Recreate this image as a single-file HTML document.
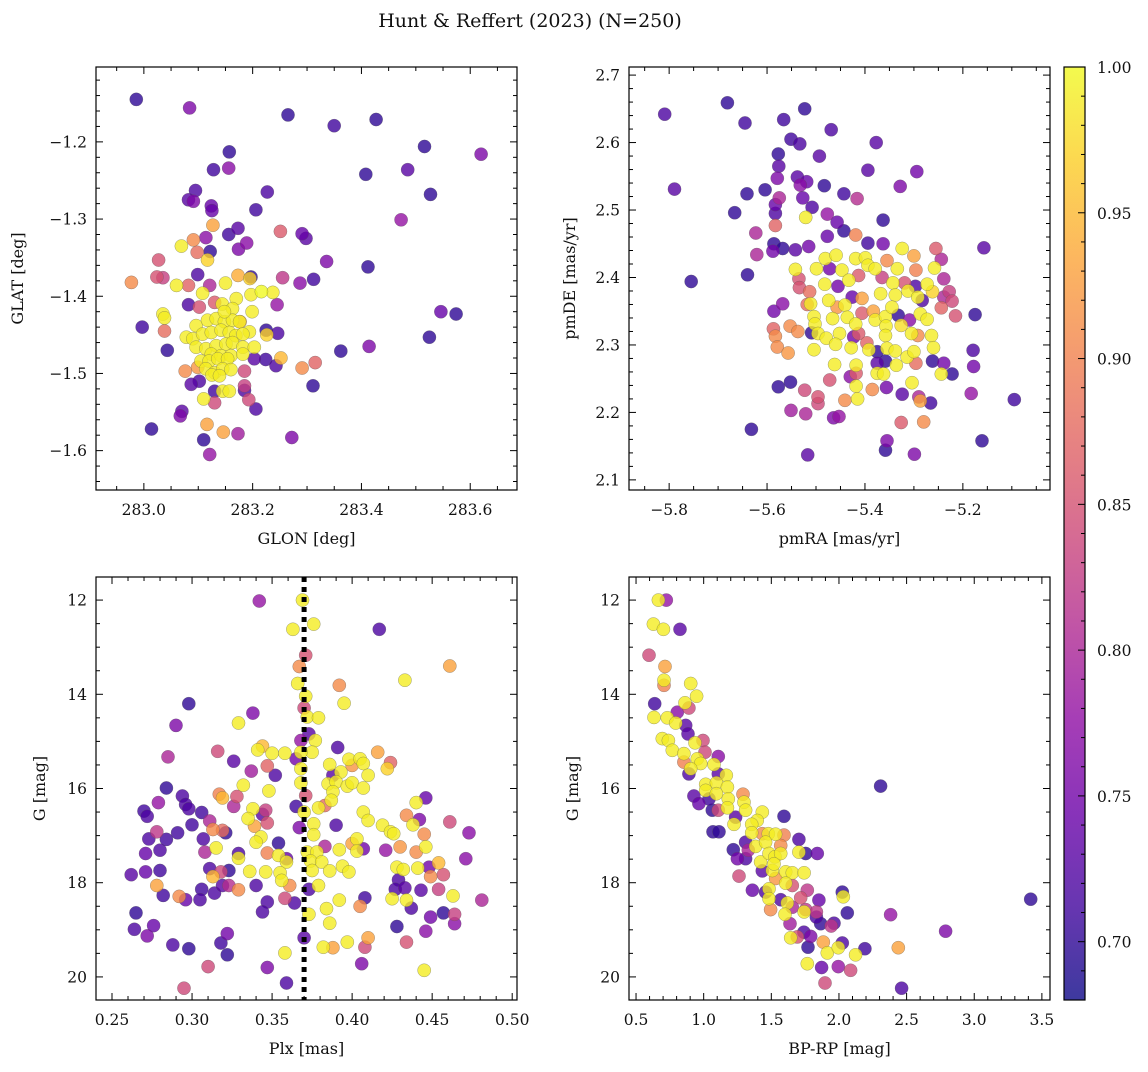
<!DOCTYPE html>
<html><head><meta charset="utf-8"><style>
html,body{margin:0;padding:0;background:#fff}
svg text{font-family:"DejaVu Serif","Liberation Serif",serif;fill:#111}
</style></head><body>
<svg id="fig" width="1148" height="1067" viewBox="0 0 1148 1067" xmlns="http://www.w3.org/2000/svg">
<text x="530" y="27" font-size="19" text-anchor="middle">Hunt &amp; Reffert (2023) (N=250)</text>
</svg>
<script>
// ---- Panel 1: GLON vs GLAT ----
const glonX=[282.986,283.084,283.265,283.350,283.427,283.516,283.620,283.157,283.128,283.156,283.408,283.485,283.527,283.095,283.082,283.091,283.227,283.124,283.125,283.206,283.473,283.127,283.173,283.156,283.251,283.291,283.298,283.114,283.189,283.174,283.091,283.069,283.098,283.122,283.117,283.027,283.336,283.412,282.977,283.024,283.035,283.099,283.060,283.082,283.255,283.287,283.312,283.197,283.173,283.195,283.150,283.121,283.108,283.197,283.216,283.237,283.170,283.130,283.144,283.082,283.102,283.245,283.199,283.163,283.035,283.038,282.997,283.038,283.546,283.574,283.525,283.414,283.362,283.043,283.225,283.246,283.226,283.194,
283.096,283.117,283.133,283.148,283.163,283.176,283.078,283.090,283.108,283.124,283.142,283.157,283.169,283.182,283.096,283.114,283.133,283.151,283.163,283.182,283.203,283.124,283.142,283.160,283.182,283.105,283.120,283.136,283.154,283.114,283.130,283.145,283.160,283.125,283.139,
283.177,283.148,283.252,283.291,283.315,283.243,283.224,283.203,283.076,283.099,283.185,283.087,283.102,283.130,283.145,283.157,283.185,283.185,283.110,283.193,283.130,283.206,283.070,283.067,283.311,283.014,283.116,283.110,283.146,283.173,283.272,283.121];
const glatY=[-1.145,-1.156,-1.165,-1.179,-1.171,-1.206,-1.216,-1.213,-1.236,-1.234,-1.242,-1.236,-1.268,-1.263,-1.275,-1.277,-1.265,-1.283,-1.289,-1.288,-1.301,-1.308,-1.312,-1.320,-1.316,-1.319,-1.325,-1.324,-1.331,-1.339,-1.327,-1.335,-1.343,-1.342,-1.353,-1.353,-1.355,-1.362,-1.382,-1.375,-1.376,-1.372,-1.386,-1.386,-1.376,-1.383,-1.378,-1.375,-1.373,-1.377,-1.383,-1.386,-1.396,-1.398,-1.394,-1.395,-1.403,-1.408,-1.410,-1.411,-1.414,-1.411,-1.420,-1.416,-1.423,-1.428,-1.440,-1.445,-1.420,-1.423,-1.453,-1.465,-1.471,-1.470,-1.444,-1.448,-1.450,-1.446,
-1.438,-1.431,-1.429,-1.433,-1.431,-1.433,-1.453,-1.455,-1.449,-1.447,-1.444,-1.447,-1.451,-1.449,-1.466,-1.468,-1.464,-1.462,-1.460,-1.466,-1.466,-1.475,-1.477,-1.477,-1.475,-1.484,-1.484,-1.481,-1.481,-1.494,-1.499,-1.494,-1.495,-1.502,-1.503,
-1.433,-1.420,-1.480,-1.493,-1.486,-1.490,-1.482,-1.481,-1.497,-1.492,-1.497,-1.514,-1.510,-1.523,-1.523,-1.523,-1.516,-1.522,-1.533,-1.534,-1.538,-1.546,-1.549,-1.555,-1.516,-1.572,-1.566,-1.586,-1.576,-1.578,-1.583,-1.605];
const glonProb=[.70,.76,.70,.71,.70,.70,.76,.70,.71,.77,.70,.73,.70,.72,.73,.76,.72,.74,.74,.71,.78,.93,.73,.71,.86,.74,.73,.77,.77,.76,.91,.99,.88,.70,.97,.85,.76,.70,.91,.85,.83,.72,.99,.87,.82,.77,.71,.70,.94,.97,.99,.80,.99,.99,1.0,.99,.99,.86,.99,.72,.85,.78,.99,.99,.99,.99,.71,.88,.74,.70,.70,.76,.70,.70,.70,.72,.97,.99,
.99,.99,.99,.99,.99,.99,.99,.99,.99,.99,.99,.99,.99,.99,.99,.99,.99,.99,.99,.99,.99,.99,.99,.99,.99,.99,.99,.99,.99,.99,.99,.99,.99,.99,.99,
.93,.99,.95,.91,.87,.72,.71,.73,.91,.92,.84,.73,.72,.71,.99,.99,.83,.72,.99,.84,.84,.72,.73,.76,.70,.70,.93,.70,.93,.79,.76,.78];

// ---- Panel 2: pmRA vs pmDE ----
const pmraX=[-5.809,-5.681,-5.523,-5.645,-5.566,-5.469,-5.551,-5.533,-5.377,-5.577,-5.493,-5.576,-5.394,-5.294,-5.579,-5.538,-5.519,-5.532,-5.483,-5.328,-5.789,-5.641,-5.604,-5.443,-5.575,-5.527,-5.416,-5.583,-5.583,-5.666,-5.508,-5.521,-5.477,-5.363,-5.457,-5.583,-5.623,-5.477,-5.443,-5.419,-5.394,-5.363,-5.586,-5.568,-5.588,-5.542,-5.515,-5.621,-5.157,-5.255,-5.324,-5.300,-5.244,-5.640,-5.755,-5.542,-5.499,-5.481,-5.459,-5.472,-5.447,-5.419,-5.399,-5.394,-5.379,-5.355,-5.334,-5.296,-5.258,-5.239,-5.535,-5.413,-5.433,-5.482,-5.455,-5.365,-5.343,-5.319,-5.297,-5.273,-5.534,-5.513,-5.511,-5.518,-5.568,-5.586,-5.474,-5.441,-5.426,-5.406,-5.368,-5.338,-5.312,-5.292,-5.283,-5.262,-5.239,-5.228,-5.222,-5.244,-5.215,-5.175,-5.457,-5.436,-5.466,-5.504,-5.502,-5.406,-5.383,-5.379,-5.358,-5.345,-5.332,-5.309,-5.287,-5.273,-5.419,-5.357,-5.326,-5.587,-5.553,-5.537,-5.583,-5.509,-5.496,-5.479,-5.452,-5.423,-5.413,-5.358,-5.305,-5.292,-5.264,-5.579,-5.557,-5.504,-5.460,-5.428,-5.396,-5.392,-5.375,-5.355,-5.338,-5.314,-5.300,-5.260,-5.179,-5.462,-5.418,-5.375,-5.358,-5.336,-5.296,-5.262,-5.239,-5.178,-5.244,-5.222,-5.418,-5.430,-5.375,-5.362,-5.472,-5.577,-5.552,-5.523,-5.496,-5.496,-5.418,-5.385,-5.356,-5.304,-5.324,-5.290,-5.287,-5.266,-5.183,-5.095,-5.441,-5.415,-5.551,-5.521,-5.464,-5.453,-5.326,-5.280,-5.632,-5.355,-5.358,-5.299,-5.517,-5.161];
const pmdeY=[2.642,2.659,2.650,2.629,2.634,2.619,2.605,2.598,2.600,2.583,2.580,2.565,2.559,2.557,2.547,2.549,2.542,2.537,2.536,2.535,2.531,2.524,2.530,2.524,2.518,2.518,2.517,2.508,2.495,2.496,2.504,2.489,2.494,2.485,2.482,2.477,2.466,2.461,2.469,2.463,2.451,2.450,2.450,2.443,2.439,2.441,2.446,2.434,2.444,2.443,2.443,2.432,2.427,2.404,2.394,2.412,2.413,2.428,2.433,2.413,2.411,2.428,2.429,2.418,2.413,2.425,2.413,2.411,2.414,2.398,2.398,2.403,2.396,2.390,2.387,2.400,2.392,2.392,2.387,2.390,2.385,2.379,2.361,2.360,2.361,2.350,2.366,2.359,2.371,2.369,2.376,2.374,2.380,2.371,2.366,2.379,2.371,2.379,2.365,2.355,2.343,2.345,2.356,2.341,2.339,2.342,2.331,2.347,2.350,2.337,2.342,2.356,2.344,2.337,2.346,2.338,2.331,2.328,2.329,2.324,2.328,2.320,2.313,2.318,2.317,2.310,2.317,2.312,2.317,2.314,2.317,2.314,2.314,2.297,2.288,2.293,2.301,2.296,2.303,2.293,2.290,2.295,2.291,2.282,2.290,2.296,2.292,2.271,2.270,2.273,2.276,2.270,2.273,2.276,2.273,2.268,2.257,2.257,2.258,2.253,2.258,2.257,2.248,2.238,2.245,2.233,2.223,2.213,2.239,2.234,2.237,2.244,2.227,2.223,2.217,2.214,2.228,2.219,2.218,2.220,2.203,2.198,2.192,2.194,2.185,2.186,2.175,2.158,2.144,2.138,2.137,2.158];
const pmProb=[.72,.70,.70,.71,.71,.72,.71,.72,.73,.70,.73,.73,.73,.75,.76,.73,.74,.77,.70,.76,.73,.70,.70,.71,.80,.74,.81,.74,.72,.70,.72,.99,.78,.70,.74,.87,.80,.74,.70,.90,.71,.75,.70,.70,.75,.73,.75,.80,.73,.86,.99,.93,.80,.70,.70,.99,.99,.99,.99,.75,.99,.99,.99,.99,.99,.91,.99,.90,.99,.80,.85,.86,.99,.99,.75,.83,.99,.85,.72,.99,.85,.88,.99,.88,.77,.75,.99,.99,.74,.93,.99,.99,.99,.99,.72,.97,.80,.83,.84,.87,.85,.70,.92,.99,.99,.99,.99,.86,.93,.99,.99,.99,.70,.77,.99,.99,.99,.99,.98,.87,.91,.91,.91,.70,.99,.99,.99,.75,.86,.99,.99,.91,.99,.91,.92,.99,.99,.99,.87,.99,.70,.99,.99,.99,.99,.99,.72,.99,.99,.73,.70,.99,.88,.70,.75,.75,.99,.70,.86,.77,.99,.99,.85,.70,.70,.84,.85,.84,.99,.91,.75,.99,.73,.80,.93,.71,.78,.71,.91,.99,.79,.80,.76,.78,.86,.91,.70,.76,.70,.76,.73,.70];

// ---- Panel 3: Plx vs G ----
const plxX=[0.342,0.369,0.363,0.376,0.417,0.371,0.367,0.461,0.366,0.433,0.392,0.395,0.298,0.371,0.370,0.338,0.290,0.329,0.372,0.379,0.373,0.368,0.377,0.375,0.368,0.391,0.285,0.316,0.341,0.344,0.350,0.358,0.365,0.326,0.337,0.347,0.352,0.368,0.386,0.398,0.400,0.405,0.407,0.416,0.424,0.422,0.410,0.393,0.388,0.332,0.348,0.368,0.385,0.390,0.397,0.400,0.407,0.284,0.279,0.294,0.317,0.319,0.328,0.326,0.371,0.388,0.387,0.383,0.379,0.440,0.446,0.270,0.272,0.296,0.298,0.306,0.338,0.344,0.346,0.347,0.365,0.370,0.407,0.410,0.419,0.434,0.442,0.438,0.461,0.335,0.339,0.311,0.300,0.313,0.319,0.321,0.376,0.390,0.424,0.426,0.278,0.291,0.273,0.284,0.307,0.343,0.340,0.376,0.367,0.445,0.473,0.271,0.280,0.308,0.315,0.329,0.329,0.347,0.354,0.354,0.359,0.359,0.372,0.378,0.383,0.392,0.400,0.403,0.403,0.407,0.421,0.430,0.440,0.446,0.471,0.262,0.271,0.280,0.311,0.313,0.318,0.323,0.336,0.346,0.355,0.356,0.374,0.375,0.381,0.386,0.394,0.398,0.428,0.432,0.441,0.448,0.454,0.449,0.457,0.278,0.282,0.306,0.314,0.319,0.323,0.329,0.340,0.361,0.373,0.379,0.429,0.427,0.433,0.443,0.454,0.463,0.292,0.296,0.305,0.347,0.358,0.364,0.392,0.408,0.425,0.434,0.437,0.481,0.265,0.344,0.373,0.384,0.405,0.449,0.457,0.464,0.464,0.264,0.276,0.272,0.322,0.318,0.288,0.298,0.322,0.358,0.386,0.370,0.382,0.388,0.397,0.410,0.408,0.428,0.434,0.446,0.406,0.445,0.310,0.347,0.359,0.295];
const plxG=[12.02,12.00,12.62,12.51,12.62,13.17,13.41,13.40,13.77,13.70,13.81,14.19,14.20,14.04,14.29,14.40,14.66,14.61,14.48,14.50,14.84,14.98,14.98,15.23,15.23,15.13,15.33,15.21,15.18,15.10,15.25,15.25,15.37,15.42,15.63,15.52,15.72,15.58,15.49,15.38,15.51,15.37,15.47,15.23,15.45,15.58,15.72,15.65,15.72,15.93,16.05,15.88,15.90,15.86,15.95,15.88,15.99,15.99,16.30,16.16,16.12,16.20,16.17,16.38,16.15,16.07,16.25,16.36,16.41,16.30,16.20,16.48,16.59,16.34,16.43,16.51,16.43,16.55,16.46,16.73,16.38,16.50,16.50,16.68,16.78,16.57,16.66,16.77,16.71,16.64,16.80,16.69,16.77,16.87,16.89,16.94,16.75,16.78,16.92,16.96,16.92,16.94,17.07,17.08,17.07,17.03,17.14,16.98,16.83,16.97,16.94,17.38,17.31,17.35,17.26,17.38,17.48,17.37,17.16,17.42,17.49,17.56,17.35,17.35,17.23,17.30,17.17,17.07,17.33,17.28,17.31,17.24,17.35,17.24,17.49,17.83,17.77,17.74,17.70,17.87,17.77,17.74,17.76,17.77,17.79,17.95,17.54,17.74,17.56,17.75,17.65,17.77,17.67,17.72,17.69,17.67,17.58,17.87,17.83,18.06,18.27,18.14,18.22,18.06,18.06,18.15,18.06,18.06,18.14,18.06,17.94,18.14,18.11,18.16,18.14,18.28,18.29,18.36,18.36,18.41,18.33,18.43,18.37,18.32,18.34,18.37,18.54,18.37,18.64,18.62,18.67,18.55,18.50,18.73,18.64,18.67,18.87,18.99,18.91,19.13,19.08,19.28,19.32,19.40,19.53,19.49,18.86,19.17,19.37,19.38,19.26,19.17,19.37,18.93,19.26,19.03,19.72,19.86,19.78,19.80,20.13,20.24];
const plxProb=[.78,.99,.99,.99,.72,.85,.91,.93,.99,.99,.91,.99,.70,.99,.84,.76,.76,.99,.99,.99,.73,.78,.99,.99,.99,.72,.80,.84,.99,.95,.99,.99,.75,.73,.79,.87,.72,.99,.99,.99,.92,.99,.99,.93,.87,.97,.99,.99,.73,.99,.99,.99,.99,.99,.99,.99,.99,.70,.78,.72,.90,.95,.85,.80,.85,.99,.99,.88,.99,.99,.74,.71,.72,.72,.72,.71,.99,.73,.83,.85,.71,.99,.99,.99,.99,.91,.76,.99,.84,.99,.93,.80,.71,.91,.88,.70,.99,.72,.99,.99,.82,.71,.72,.71,.72,.99,.99,.99,.76,.91,.77,.74,.72,.80,.99,.72,.99,.90,.70,.99,.74,.99,.99,.99,.80,.99,.93,.99,.99,.75,.78,.92,.91,.99,.77,.73,.74,.71,.72,.95,.84,.70,.99,.99,.99,.99,.99,.99,.99,.99,.99,.99,.99,.99,.99,.75,.95,.91,.85,.93,.71,.71,.72,.73,.81,.91,.72,.91,.72,.99,.72,.72,.73,.73,.83,.99,.91,.74,.72,.72,.84,.72,.99,.71,.99,.99,.72,.80,.70,.72,.99,.99,.91,.75,.70,.83,.77,.72,.74,.76,.75,.71,.72,.70,.70,.99,.99,.73,.99,.93,.99,.93,.84,.70,.85,.77,.76,.99,.84,.76,.72,.84,.70];

// ---- Panel 4: BP-RP vs G ----
const bprpX=[0.665,0.724,0.628,0.702,0.825,0.596,0.714,0.707,0.707,0.904,0.948,0.638,0.862,0.891,0.805,0.633,0.731,0.793,0.867,0.884,0.694,0.739,0.995,0.768,0.854,0.936,1.010,1.108,0.953,0.854,0.978,0.904,0.891,1.076,1.108,1.167,1.015,1.094,1.175,0.928,0.965,1.039,1.015,1.094,1.182,1.291,1.298,1.064,1.108,1.175,1.310,1.236,1.594,1.433,1.396,1.224,1.355,1.069,1.113,1.355,1.433,1.478,1.532,1.594,1.704,2.308,1.310,1.384,1.458,1.569,1.704,1.754,1.840,1.219,1.249,1.330,1.310,1.421,1.483,1.527,1.569,1.433,1.507,1.606,1.655,1.742,1.520,1.261,1.532,1.606,1.655,1.483,1.458,1.360,1.766,2.025,2.032,1.483,1.569,1.618,1.717,1.852,3.417,1.495,1.655,1.742,1.601,1.754,1.833,1.833,2.062,2.382,1.638,1.741,1.791,1.865,1.943,1.963,2.788,1.643,1.692,1.771,1.884,2.025,1.914,1.995,2.123,2.192,2.439,1.766,1.872,1.995,2.086,1.897,2.463];
const bprpG=[12.00,12.00,12.51,12.62,12.62,13.17,13.41,13.81,13.70,13.77,14.04,14.20,14.18,14.29,14.38,14.49,14.50,14.61,14.66,14.84,14.94,14.98,14.98,15.19,15.26,15.03,15.23,15.32,15.37,15.44,15.47,15.58,15.69,15.49,15.69,15.72,15.91,15.88,15.97,16.16,16.32,16.22,16.04,16.11,16.22,16.12,16.29,16.46,16.46,16.41,16.46,16.61,16.59,16.50,16.68,16.76,16.76,16.92,16.92,16.94,16.96,16.96,16.97,16.99,17.08,15.95,17.14,17.23,17.14,17.21,17.35,17.38,17.38,17.30,17.49,17.31,17.49,17.56,17.38,17.45,17.38,17.75,17.74,17.77,17.79,17.79,17.60,17.86,17.91,18.01,18.06,18.13,18.20,18.16,18.16,18.20,18.30,18.34,18.36,18.43,18.32,18.37,18.35,18.57,18.52,18.62,18.67,18.57,18.62,18.73,18.64,18.68,18.87,19.05,19.14,18.87,18.92,18.86,19.03,19.17,19.15,19.37,19.26,19.28,19.49,19.38,19.53,19.40,19.38,19.72,19.80,19.78,19.86,20.13,20.24];
const bprpProb=[.99,.78,.99,.99,.73,.84,.93,.90,.99,.99,.99,.71,.99,.84,.77,.99,.99,.99,.73,.73,.99,.99,.84,.99,.99,.99,.84,.77,.99,.90,.99,.99,.72,.99,.73,.99,.99,.99,.99,.73,.74,.71,.99,.99,.99,.91,.99,.70,.84,.99,.99,.73,.70,.99,.99,.99,.99,.70,.70,.99,.91,.99,.99,.90,.72,.70,.72,.99,.99,.91,.99,.70,.74,.70,.75,.80,.72,.99,.99,.99,.99,.73,.99,.99,.99,.99,.99,.84,.92,.99,.85,.99,.72,.74,.82,.70,.99,.99,.72,.99,.85,.74,.70,.91,.80,.99,.99,.82,.82,.72,.70,.78,.79,.72,.76,.70,.82,.72,.76,.99,.85,.70,.93,.72,.99,.99,.99,.71,.93,.99,.74,.78,.84,.84,.72];

const cbTicks=[0.70,0.75,0.80,0.85,0.90,0.95,1.00];
const NS="http://www.w3.org/2000/svg";
const svg=document.getElementById('fig');
const PMIN=0.680,PMAX=1.0;
const stops=[[13,8,135],[65,4,157],[106,0,168],[143,13,164],[177,42,144],[204,71,120],[225,100,98],[242,132,75],[252,166,54],[252,206,37],[240,249,33]];
function plasma(t){t=Math.max(0,Math.min(1,t));const f=t*10,i=Math.min(9,Math.floor(f)),u=f-i;const a=stops[i],b=stops[i+1];return 'rgb('+[0,1,2].map(k=>Math.round(a[k]+(b[k]-a[k])*u)).join(',')+')';}
function mk(tag,attrs,parent){const e=document.createElementNS(NS,tag);for(const k in attrs)e.setAttribute(k,attrs[k]);(parent||svg).appendChild(e);return e;}
function fmt(v,d){let s=v.toFixed(d);if(v<0)s='\u2212'+s.slice(1);return s;}

function panel(o){
  const g=mk('g',{});
  
  
  const sx=v=>o.L+(v-o.x0)/(o.x1-o.x0)*(o.R-o.L);
  const sy=v=>o.B-(v-o.y0)/(o.y1-o.y0)*(o.B-o.T);
  const cid='clip'+o.name;
  const cp=mk('clipPath',{id:cid},g);mk('rect',{x:o.L,y:o.T,width:o.R-o.L,height:o.B-o.T},cp);
  const pg=mk('g',{'clip-path':'url(#'+cid+')'},g);
  
  
  const idx=o.xs.map((_,i)=>i).sort((a,b)=>o.ps[a]-o.ps[b]);
  idx.forEach(i=>{
    const c=mk('circle',{cx:sx(o.xs[i]).toFixed(1),cy:sy(o.ys[i]).toFixed(1),r:6.6,fill:plasma((o.ps[i]-PMIN)/(PMAX-PMIN)),'fill-opacity':0.8,stroke:'#555','stroke-opacity':0.55,'stroke-width':0.5},pg);
    
    
  });
  if(o.vline!==undefined){
    const l=mk('line',{x1:sx(o.vline),x2:sx(o.vline),y1:o.T,y2:o.B,stroke:'#000','stroke-width':5,'stroke-dasharray':'5,5'},pg);
    
    
  }
  const fr=mk('rect',{x:o.L,y:o.T,width:o.R-o.L,height:o.B-o.T,fill:'none',stroke:'#000','stroke-width':1.2},g);
  
  
  const tk=mk('g',{stroke:'#000','stroke-width':1},g);
  for(let n=Math.ceil(o.x0/o.xmin-1e-9);n*o.xmin<=o.x1+1e-9;n++){
    const v=n*o.xmin,px=sx(v),maj=Math.abs(v/o.xmaj-Math.round(v/o.xmaj))<1e-6,len=maj?7:4;
    mk('line',{x1:px,x2:px,y1:o.B,y2:o.B-len},tk);mk('line',{x1:px,x2:px,y1:o.T,y2:o.T+len},tk);
    if(maj){const t=mk('text',{x:px,y:o.B+25,'font-size':15.5,'text-anchor':'middle'},g);t.textContent=fmt(v,o.xd);
      }
  }
  for(let n=Math.ceil(Math.min(o.y0,o.y1)/o.ymin-1e-9);n*o.ymin<=Math.max(o.y0,o.y1)+1e-9;n++){
    const v=n*o.ymin,py=sy(v),maj=Math.abs(v/o.ymaj-Math.round(v/o.ymaj))<1e-6,len=maj?7:4;
    mk('line',{x1:o.L,x2:o.L+len,y1:py,y2:py},tk);mk('line',{x1:o.R,x2:o.R-len,y1:py,y2:py},tk);
    if(maj){const t=mk('text',{x:o.L-9,y:py+5.5,'font-size':15.5,'text-anchor':'end'},g);t.textContent=fmt(v,o.yd);
      }
  }
  const xl=mk('text',{x:(o.L+o.R)/2,y:o.B+54,'font-size':16,'text-anchor':'middle'},g);xl.textContent=o.xlabel;
  
  const yx=o.ylx,yy=(o.T+o.B)/2;
  const yl=mk('text',{x:yx,y:yy,'font-size':16,'text-anchor':'middle',transform:'rotate(-90 '+yx+' '+yy+')'},g);yl.textContent=o.ylabel;
  
}

panel({name:'glon-glat-panel',L:96,R:517,T:67,B:490,x0:282.912,x1:283.686,y0:-1.651,y1:-1.103,xmin:0.05,xmaj:0.2,ymin:0.02,ymaj:0.1,xd:1,yd:1,xs:glonX,ys:glatY,ps:glonProb,xlabel:'GLON [deg]',ylabel:'GLAT [deg]',ylx:23});
panel({name:'pm-panel',L:629,R:1050,T:67,B:490,x0:-5.882,x1:-5.022,y0:2.085,y1:2.712,xmin:0.05,xmaj:0.2,ymin:0.02,ymaj:0.1,xd:1,yd:1,xs:pmraX,ys:pmdeY,ps:pmProb,xlabel:'pmRA [mas/yr]',ylabel:'pmDE [mas/yr]',ylx:575});
panel({name:'plx-g-panel',L:96,R:517,T:577,B:1000,x0:0.24,x1:0.503,y0:20.49,y1:11.51,xmin:0.01,xmaj:0.05,ymin:0.5,ymaj:2,xd:2,yd:0,xs:plxX,ys:plxG,ps:plxProb,xlabel:'Plx [mas]',ylabel:'G [mag]',ylx:45,vline:0.37});
panel({name:'cmd-panel',L:629,R:1050,T:577,B:1000,x0:0.448,x1:3.56,y0:20.49,y1:11.51,xmin:0.1,xmaj:0.5,ymin:0.5,ymaj:2,xd:1,yd:0,xs:bprpX,ys:bprpG,ps:bprpProb,xlabel:'BP-RP [mag]',ylabel:'G [mag]',ylx:578});

(function(){
  const L=1064,R=1085,T=67,B=1000;
  const cg=mk('g',{});
  
  
  const defs=mk('defs',{},cg);
  const lg=mk('linearGradient',{id:'cbg',x1:0,y1:1,x2:0,y2:0},defs);
  for(let k=0;k<=20;k++){const t=k/20;mk('stop',{offset:t,'stop-color':plasma(t),'stop-opacity':0.8},lg);}
  mk('rect',{x:L,y:T,width:R-L,height:B-T,fill:'url(#cbg)',stroke:'#000','stroke-width':1.2},cg);
  const sy=v=>B-(v-PMIN)/(PMAX-PMIN)*(B-T);
  for(let n=68;n<=100;n++){const v=n/100,py=sy(v),maj=n%5===0,len=maj?7:4;
    mk('line',{x1:R,x2:R-len,y1:py,y2:py,stroke:'#000','stroke-width':1},cg);}
  cbTicks.forEach(v=>{const t=mk('text',{x:R+12,y:sy(v)+6,'font-size':15.5},cg);t.textContent=v.toFixed(2);
    });
})();
</script>
</body></html>
